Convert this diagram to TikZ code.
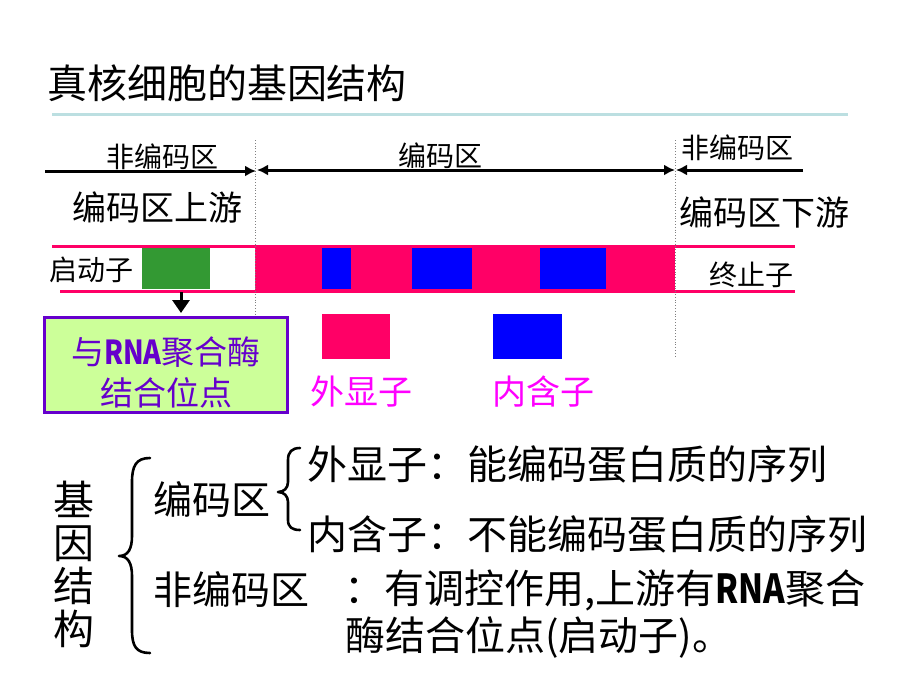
\documentclass[tikz,border=0pt]{standalone}
\usepackage{fontspec}
\setmainfont{Noto Sans CJK SC}
\usetikzlibrary{arrows.meta,calc}
\definecolor{dnapink}{HTML}{FF0066}
\definecolor{promgreen}{HTML}{339933}
\definecolor{intblue}{HTML}{0000FF}
\definecolor{boxfill}{HTML}{CCFF99}
\definecolor{boxpurple}{HTML}{6600CC}
\definecolor{labmag}{HTML}{FF00FF}
\definecolor{titleline}{HTML}{BCDFE1}
\newcommand{\rnaword}{\scalebox{0.82}[1]{\bfseries RNA}}
\begin{document}
\begin{tikzpicture}[x=1pt,y=-1pt,
  txt/.style={inner sep=0pt, outer sep=0pt, text=black},
  blockbox/.style={inner sep=0pt, outer sep=0pt, draw=none},
  dimarrow/.style={line width=3pt, -{Latex[length=11pt,width=11pt]}},
  dimarrowboth/.style={line width=3pt, {Latex[length=11pt,width=11pt]}-{Latex[length=11pt,width=11pt]}},
  strand/.style={line width=3pt, draw=dnapink},
  sep/.style={draw=gray, line width=0.8pt, dotted},
  brace/.style={line width=2.6pt, line cap=round, line join=round}
]
\useasboundingbox (0,0) rectangle (900,675);

% title
\node[txt, anchor=west, font=\fontsize{40}{40}\selectfont] (title) at (47,83) {真核细胞的基因结构};
\coordinate (tl1) at (52,114);
\coordinate (tl2) at (848,114);
\draw[titleline, line width=3pt] (tl1) -- (tl2);

% separators
\coordinate (s1a) at (255,140); \coordinate (s1b) at (255,315);
\coordinate (s2a) at (675,140); \coordinate (s2b) at (675,358);

% strand
\coordinate (st1a) at (52,246); \coordinate (st1b) at (795,246);
\coordinate (st2a) at (60,291); \coordinate (st2b) at (795,291);
\draw[strand] (st1a) -- (st1b);
\draw[strand] (st2a) -- (st2b);
\node[blockbox, fill=dnapink, minimum width=420pt, minimum height=47pt] (exonblock) at (465,269.5) {};
\node[blockbox, fill=promgreen, minimum width=68pt, minimum height=41pt] (prom) at (176,268.5) {};
\node[blockbox, fill=intblue, minimum width=29pt, minimum height=41pt] (int1) at (336.5,268.5) {};
\node[blockbox, fill=intblue, minimum width=60pt, minimum height=41pt] (int2) at (442,268.5) {};
\node[blockbox, fill=intblue, minimum width=66pt, minimum height=41pt] (int3) at (573,268.5) {};

\draw[sep] (s1a) -- (s1b);
\draw[sep] (s2a) -- (s2b);

% top dimension arrows
\coordinate (a1a) at (45,171); \coordinate (a1b) at (256,171);
\coordinate (a2a) at (257,170); \coordinate (a2b) at (675,170);
\coordinate (a3a) at (676,170); \coordinate (a3b) at (803,170);
\draw[dimarrow] (a1a) -- (a1b);
\draw[dimarrowboth] (a2a) -- (a2b);
\draw[dimarrow] (a3b) -- (a3a);
\node[txt, font=\fontsize{28}{30}\selectfont] (lnc) at (162,157) {非编码区};
\node[txt, font=\fontsize{28}{30}\selectfont] (lc) at (440,156) {编码区};
\node[txt, font=\fontsize{28}{30}\selectfont] (rnc) at (737,148) {非编码区};
\node[txt, font=\fontsize{34}{36}\selectfont] (up) at (157,207) {编码区上游};
\node[txt, font=\fontsize{34}{36}\selectfont] (down) at (764,212) {编码区下游};
\node[txt, font=\fontsize{28}{30}\selectfont] (promlab) at (91,270) {启动子};
\node[txt, font=\fontsize{28}{30}\selectfont] (termlab) at (751,275) {终止子};

% promoter box
\node[blockbox, draw=boxpurple, line width=3pt, fill=boxfill, minimum width=243pt, minimum height=95pt] (rnabox) at (165.5,364.5) {};
\node[txt, text=boxpurple, align=center, font=\fontsize{33}{41}\selectfont] (rnatext) at (166,372) {与\rnaword 聚合酶\\结合位点};
\coordinate (arrtop) at (181,292);
\draw[line width=3pt, -{Triangle[length=13pt,width=17pt]}, shorten >=4pt] (arrtop) -- (arrtop |- rnabox.north);

% legend
\node[blockbox, fill=dnapink, minimum width=68pt, minimum height=45pt] (legex) at (356,336.5) {};
\node[blockbox, fill=intblue, minimum width=69pt, minimum height=45pt] (legin) at (527.5,336.5) {};
\node[txt, text=labmag, font=\fontsize{34}{36}\selectfont] (exlab) at (361,392) {外显子};
\node[txt, text=labmag, font=\fontsize{34}{36}\selectfont] (inlab) at (543,392) {内含子};

% bottom summary
\node[txt, align=center, font=\fontsize{41}{43}\selectfont] (gene) at (74,564) {基\\因\\结\\构};
\coordinate (bb1) at (150,458);
\coordinate (bb2) at (150,653);
\draw[brace] (bb1) .. controls (136,458) and (132,466) .. (132,482) -- (132,536)
  .. controls (132,549) and (128,556) .. (119,556)
  .. controls (128,556) and (132,563) .. (132,576) -- (132,630)
  .. controls (132,646) and (136,653) .. (bb2);
\node[txt, font=\fontsize{39}{40}\selectfont] (coding) at (212,499) {编码区};
\coordinate (sb1) at (300,448);
\coordinate (sb2) at (300,530);
\draw[brace] (sb1) .. controls (292,448) and (288,452) .. (288,460) -- (288,482)
  .. controls (288,488) and (284,492) .. (278,492)
  .. controls (284,492) and (288,496) .. (288,502) -- (288,520)
  .. controls (288,527) and (292,530) .. (sb2);
\node[txt, anchor=west, font=\fontsize{40}{40}\selectfont] (exdesc) at (307,464) {外显子：能编码蛋白质的序列};
\node[txt, anchor=west, font=\fontsize{40}{40}\selectfont] (indesc) at (307,534) {内含子：不能编码蛋白质的序列};
\node[txt, font=\fontsize{39}{40}\selectfont] (noncoding) at (231,590) {非编码区};
\node[txt, anchor=west, font=\fontsize{40}{40}\selectfont] (ncdesc1) at (344,590) {：有调控作用,上游有\rnaword 聚合};
\node[txt, anchor=west, font=\fontsize{40}{40}\selectfont] (ncdesc2) at (345,637) {酶结合位点(启动子)。};
\end{tikzpicture}
\end{document}
